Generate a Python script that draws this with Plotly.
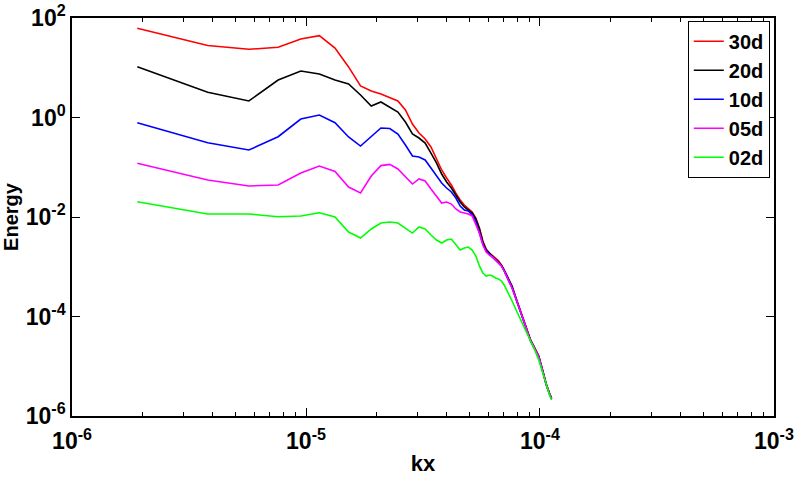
import plotly.graph_objects as go

kx = [1.9e-6, 3.8e-6, 5.7e-6, 7.6e-6, 9.5e-6, 1.14e-5, 1.33e-5, 1.52e-5, 1.71e-5, 1.90e-5,
      2.09e-5, 2.28e-5, 2.47e-5, 2.66e-5, 2.85e-5, 3.04e-5, 3.23e-5, 3.42e-5, 3.61e-5, 3.80e-5,
      3.99e-5, 4.18e-5, 4.37e-5, 4.56e-5, 4.75e-5, 4.94e-5, 5.13e-5, 5.32e-5, 5.51e-5, 5.70e-5,
      5.89e-5, 6.08e-5, 6.27e-5, 6.46e-5, 6.65e-5, 6.84e-5, 7.03e-5, 7.22e-5, 7.41e-5, 7.60e-5,
      7.98e-5, 8.36e-5, 8.74e-5, 9.12e-5, 9.50e-5, 9.88e-5, 1.026e-4, 1.064e-4, 1.102e-4, 1.121e-4]

e30 = [62.1, 28.0, 23.5, 25.8, 37.8, 44.1, 24.9, 10.4, 4.30, 3.41,
       2.97, 2.47, 2.15, 1.42, 0.740, 0.488, 0.370, 0.255, 0.153, 0.0881,
       0.0608, 0.0440, 0.0303, 0.0220, 0.0174, 0.0145, 0.0126, 0.00955, 0.00601, 0.00330,
       0.00228, 0.00189, 0.00164, 0.00150, 0.00131, 0.00108, 0.000861, 0.000652, 0.000493, 0.000392,
       0.000205, 0.000107, 6.15e-5, 3.37e-5, 2.33e-5, 1.61e-5, 8.41e-6, 4.40e-6, 2.77e-6, 2.30e-6]

e20 = [10.5, 3.21, 2.15, 5.67, 8.61, 7.48, 5.67, 4.71, 2.83, 1.70,
       2.05, 1.63, 1.29, 0.812, 0.466, 0.387, 0.307, 0.193, 0.122, 0.0731,
       0.0506, 0.0383, 0.0277, 0.0200, 0.0159, 0.0138, 0.0120, 0.00912, 0.00574, 0.00314,
       0.00217, 0.00189, 0.00164, 0.00143, 0.00124, 0.00108, 0.000861, 0.000652, 0.000518, 0.000410,
       0.000200, 0.000104, 6.0e-5, 3.3e-5, 2.3e-5, 1.58e-5, 8.2e-6, 4.3e-6, 2.7e-6, 2.25e-6]

e10 = [0.787, 0.312, 0.222, 0.411, 0.933, 1.12, 0.787, 0.406, 0.267, 0.406,
       0.615, 0.601, 0.466, 0.280, 0.168, 0.161, 0.140, 0.0966, 0.0667, 0.0482,
       0.0383, 0.0318, 0.0241, 0.0166, 0.0138, 0.0132, 0.0110, 0.00793, 0.00476, 0.00286,
       0.00207, 0.00180, 0.00157, 0.00137, 0.00119, 0.00104, 0.000822, 0.000622, 0.000471, 0.000374,
       0.000196, 0.000102, 5.9e-5, 3.2e-5, 2.2e-5, 1.55e-5, 8.1e-6, 4.2e-6, 2.65e-6, 2.2e-6]

e05 = [0.120, 0.0555, 0.0420, 0.0440, 0.0766, 0.106, 0.0822, 0.0401, 0.0303, 0.0667,
       0.108, 0.114, 0.0923, 0.0637, 0.0460, 0.0581, 0.0530, 0.0366, 0.0264, 0.0191,
       0.0200, 0.0182, 0.0145, 0.0126, 0.0120, 0.0115, 0.0105, 0.00723, 0.00476, 0.00274,
       0.00198, 0.00172, 0.00157, 0.00137, 0.00119, 0.00104, 0.000822, 0.000622, 0.000471, 0.000374,
       0.000198, 0.000104, 6.0e-5, 3.25e-5, 2.25e-5, 1.57e-5, 8.2e-6, 4.25e-6, 2.68e-6, 2.25e-6]

e02 = [0.0203, 0.0115, 0.0115, 0.0101, 0.0105, 0.0122, 0.0100, 0.00499, 0.00378, 0.00574,
       0.00757, 0.00793, 0.00757, 0.00601, 0.00476, 0.00630, 0.00574, 0.00435, 0.00345, 0.00300,
       0.00345, 0.00361, 0.00274, 0.00217, 0.00238, 0.00249, 0.00217, 0.00164, 0.00104, 0.000748,
       0.000652, 0.000682, 0.000652, 0.000594, 0.000568, 0.000518, 0.000430, 0.000341, 0.000258, 0.000205,
       0.000123, 7.74e-5, 4.88e-5, 3.07e-5, 2.12e-5, 1.34e-5, 7.31e-6, 4.01e-6, 2.52e-6, 2.10e-6]

series_names = ["30d", "20d", "10d", "05d", "02d"]
series_vals = [e30, e20, e10, e05, e02]
series_colors = ["#ff0000", "#000000", "#0000ff", "#ff00ff", "#00ff00"]

x_tickvals = [1e-6, 1e-5, 1e-4, 1e-3]
x_ticktext = ["10<sup>-6</sup>", "10<sup>-5</sup>", "10<sup>-4</sup>", "10<sup>-3</sup>"]
y_tickvals = [1e-6, 1e-4, 1e-2, 1e0, 1e2]
y_ticktext = ["10<sup>-6</sup>", "10<sup>-4</sup>", "10<sup>-2</sup>", "10<sup>0</sup>", "10<sup>2</sup>"]

FONT = "Liberation Sans"

fig = go.Figure()
for name, vals, col in zip(series_names, series_vals, series_colors):
    fig.add_trace(go.Scatter(x=kx, y=vals, mode="lines", name=name,
                             line=dict(color=col, width=1.6)))

axis_common = dict(
    type="log", showgrid=False, zeroline=False, automargin=False,
    showline=True, linecolor="black", linewidth=1.5, mirror="ticks",
    ticks="inside", ticklen=8, tickwidth=1, tickcolor="black",
    tickfont=dict(family=FONT, size=23, color="black", weight="bold"),
)

fig.update_xaxes(**axis_common, range=[-6.0003, -2.9997],
                 tickmode="array", tickvals=x_tickvals, ticktext=x_ticktext,
                 ticklabelstandoff=4,
                 minor=dict(ticks="inside", ticklen=4, tickwidth=1, tickcolor="black", dtick="D1"),
                 title=dict(text="kx", font=dict(family=FONT, size=22, color="black", weight="bold"),
                            standoff=2))
fig.update_yaxes(**axis_common, range=[-6.0003, 2.0003],
                 tickmode="array", tickvals=y_tickvals, ticktext=y_ticktext,
                 title=dict(text="Energy", font=dict(family=FONT, size=20, color="black", weight="bold"),
                            standoff=4))

fig.update_layout(
    width=799, height=482,
    margin=dict(l=72, r=25, t=18, b=66),
    paper_bgcolor="white", plot_bgcolor="white",
    legend=dict(x=0.994, y=0.993, xanchor="right", yanchor="top",
                bgcolor="white", bordercolor="black", borderwidth=1,
                font=dict(family=FONT, size=20, color="black", weight="bold"),
                itemwidth=30, tracegroupgap=0),
    showlegend=True,
)

fig.write_html("out.html")
